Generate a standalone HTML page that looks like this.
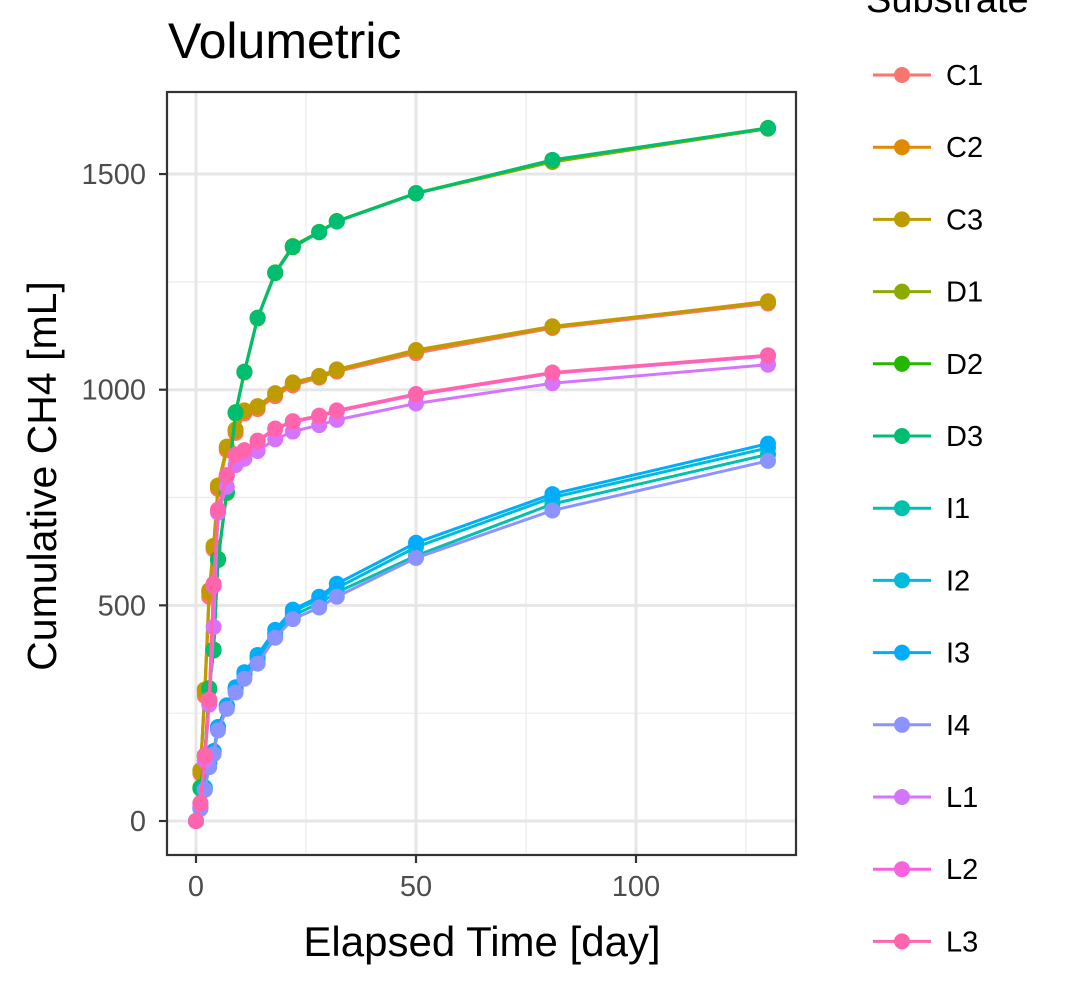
<!DOCTYPE html>
<html><head><meta charset="utf-8"><style>
html,body{margin:0;background:#fff;width:1090px;height:987px;overflow:hidden;}
svg text{font-family:"Liberation Sans",Arial,sans-serif;}
</style></head><body>
<svg id="chart" width="1090" height="987" xmlns="http://www.w3.org/2000/svg" style="position:absolute;left:0;top:0">
<g id="grid"></g><g id="series"></g><g id="axes"></g><g id="legend"></g>
</svg>
<script>
const days=[0,1,2,3,4,5,7,9,11,14,18,22,28,32,50,81,130];
const seriesNames=["C1","C2","C3","D1","D2","D3","I1","I2","I3","I4","L1","L2","L3"];
const colors=["#F8766D","#E18A00","#BE9C00","#8CAB00","#24B700","#00BE70","#00C1AB","#00BBDA","#00ACFC","#8B93FF","#D575FE","#F962DD","#FF65AC"];
const C1=[0,110,290,520,630,770,860,900,945,955,985,1010,1028,1042,1085,1143,1200];
const C2=[0,115,300,530,635,775,865,905,950,960,990,1015,1030,1045,1090,1145,1205];
const C3=[0,118,305,535,638,778,868,908,952,962,992,1017,1032,1047,1092,1147,1203];
const D1=[0,75,150,305,395,605,760,945,1040,1165,1270,1330,1365,1390,1455,1528,1605];
const D2=[0,78,152,308,398,608,765,948,1042,1167,1272,1333,1366,1391,1456,1532,1607];
const D3=[0,76,150,306,396,606,762,946,1041,1166,1271,1331,1365,1390,1455,1533,1606];
const I1=[0,32,78,135,162,218,268,305,340,375,428,476,505,530,615,735,850];
const I2=[0,30,75,132,160,215,265,305,340,380,435,485,515,540,635,750,865];
const I3=[0,30,76,133,162,218,268,310,345,385,443,490,520,550,645,758,875];
const I4=[0,28,72,125,155,210,260,298,330,365,425,468,495,520,610,720,835];
const L1=[0,40,140,270,450,715,775,825,840,858,885,903,918,930,968,1015,1058];
const L2=[0,40,150,280,545,720,800,848,858,880,908,925,938,950,988,1038,1078];
const L3=[0,42,152,282,550,722,802,850,860,882,910,927,940,952,990,1040,1080];
const seriesValues=[C1,C2,C3,D1,D2,D3,I1,I2,I3,I4,L1,L2,L3];
const xTicks=[0,50,100];
const yTicks=[0,500,1000,1500];
const NS="http://www.w3.org/2000/svg";
const X=d=>196+d*4.4, Y=v=>821-v*0.4313;
const P={l:167,r:796,t:92,b:855};
function mk(t,a,p){const e=document.createElementNS(NS,t);for(const k in a)e.setAttribute(k,a[k]);p.appendChild(e);return e;}
const grid=document.getElementById('grid');
mk('rect',{x:P.l,y:P.t,width:P.r-P.l,height:P.b-P.t,fill:'#fff'},grid);
[25,75,125].forEach(v=>{const l=mk('line',{x1:X(v),x2:X(v),y1:P.t,y2:P.b,stroke:'#ebebeb','stroke-width':1.2},grid);

});
[250,750,1250].forEach(v=>{const l=mk('line',{x1:P.l,x2:P.r,y1:Y(v),y2:Y(v),stroke:'#ebebeb','stroke-width':1.2},grid);

});
xTicks.forEach(v=>{const l=mk('line',{x1:X(v),x2:X(v),y1:P.t,y2:P.b,stroke:'#e6e6e6','stroke-width':3},grid);

});
yTicks.forEach(v=>{const l=mk('line',{x1:P.l,x2:P.r,y1:Y(v),y2:Y(v),stroke:'#e6e6e6','stroke-width':3},grid);

});
const sg=document.getElementById('series');
seriesValues.forEach((vals,i)=>{
 const g=mk('g',{},sg);
 
 
 const pl=mk('polyline',{points:vals.map((v,j)=>X(days[j])+','+Y(v)).join(' '),fill:'none',stroke:colors[i],'stroke-width':3},g);
 
 
 vals.forEach((v,j)=>{const c=mk('circle',{cx:X(days[j]),cy:Y(v),r:8,fill:colors[i]},g);
 
 });
});
const ax=document.getElementById('axes');
const fr=mk('rect',{x:P.l,y:P.t,width:P.r-P.l,height:P.b-P.t,fill:'none',stroke:'#333','stroke-width':2.2},ax);


xTicks.forEach(v=>{mk('line',{x1:X(v),x2:X(v),y1:P.b,y2:P.b+8,stroke:'#333','stroke-width':2.2},ax);
const t=mk('text',{x:X(v),y:P.b+41,'text-anchor':'middle','font-size':29,fill:'#4d4d4d'},ax);t.textContent=v;

});
yTicks.forEach(v=>{mk('line',{x1:P.l-8,x2:P.l,y1:Y(v),y2:Y(v),stroke:'#333','stroke-width':2.2},ax);
const t=mk('text',{x:P.l-21,y:Y(v)+10,'text-anchor':'end','font-size':29,fill:'#4d4d4d'},ax);t.textContent=v;

});
const lg=document.getElementById('legend');
seriesNames.forEach((n,i)=>{const y=75+i*72.2;
 const g=mk('g',{},lg);
 
 
 mk('line',{x1:873,x2:931,y1:y,y2:y,stroke:colors[i],'stroke-width':3},g);
 mk('circle',{cx:902,cy:y,r:8,fill:colors[i]},g);
 const t=mk('text',{x:946,y:y+10,'font-size':29,fill:'#000'},g);t.textContent=n;});
const tt=mk('text',{x:168,y:58,'font-size':50,fill:'#000'},ax);tt.textContent='Volumetric';


const xt=mk('text',{x:482,y:956,'font-size':42,'text-anchor':'middle',fill:'#000'},ax);xt.textContent='Elapsed Time [day]';


const yt=mk('text',{x:0,y:0,'font-size':41,'text-anchor':'middle',fill:'#000',transform:'translate(56,476) rotate(-90)'},ax);yt.textContent='Cumulative CH4 [mL]';


const lt=mk('text',{x:866,y:12,'font-size':38,fill:'#000'},lg);lt.textContent='Substrate';


</script>
</body></html>
